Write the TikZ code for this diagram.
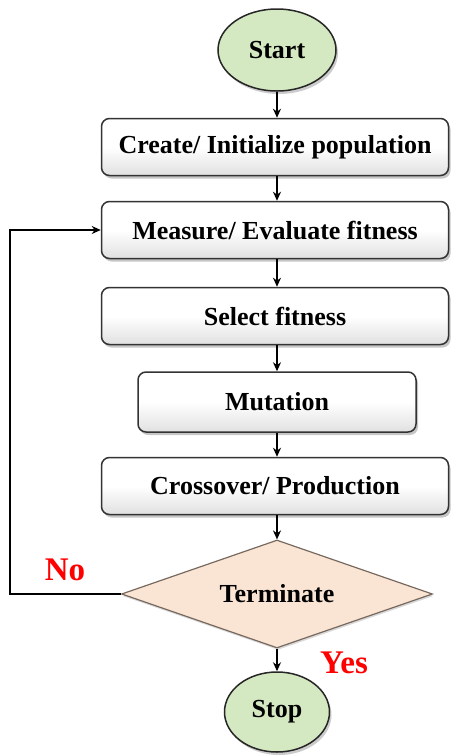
\documentclass[tikz,border=0pt]{standalone}
\usepackage{fontspec}
\setmainfont{Liberation Serif}
\usepackage{xcolor}
\usepackage{tikz}
\usetikzlibrary{shapes.geometric, arrows.meta, shadows, calc}
\definecolor{termgreen}{RGB}{212,232,194}
\definecolor{decpeach}{RGB}{250,229,212}
\definecolor{decedge}{RGB}{120,105,95}
\tikzset{
  block/.style={rectangle, draw=black!80, line width=1.5pt, rounded corners=8pt,
                top color=white, bottom color=black!12, middle color=white,
                minimum width=347pt, minimum height=57pt, align=center,
                font=\fontsize{26}{30}\selectfont\bfseries,
                drop shadow={shadow xshift=2pt, shadow yshift=-3pt, opacity=0.45}},
  smallblock/.style={block, minimum width=278pt, minimum height=60pt},
  terminal/.style={ellipse, draw=black!85, line width=1.5pt, fill=termgreen,
                   inner sep=0pt, align=center,
                   font=\fontsize{26}{30}\selectfont\bfseries,
                   drop shadow={shadow xshift=2pt, shadow yshift=-3pt, opacity=0.4}},
  decision/.style={diamond, draw=decedge, line width=1.2pt, fill=decpeach, aspect=3,
                   inner sep=0pt, minimum width=311pt, minimum height=108pt,
                   align=center, font=\fontsize{26}{30}\selectfont\bfseries,
                   drop shadow={shadow xshift=1pt, shadow yshift=-2pt, opacity=0.3}},
  arrow/.style={-{Stealth[length=9pt, width=8pt]}, line width=2.2pt}
}

\begin{document}
\begin{tikzpicture}[x=1pt, y=-1pt,
    answer/.style={text=red, font=\fontsize{33}{36}\selectfont\bfseries}
  ]
  \useasboundingbox (0,0) rectangle (451,756);

  % Start / Stop
  \node[terminal, minimum width=118pt, minimum height=82pt] (start) at (277,50) {Start};
  \node[terminal, minimum width=105pt, minimum height=80pt] (stop)  at (277,712) {Stop};

  % Process steps
  \node[block]      (init)   at (275,147) {Create/ Initialize population};
  \node[block]      (eval)   at (275,230) {Measure/ Evaluate fitness};
  \node[block]      (select) at (275,316) {Select fitness};
  \node[smallblock] (mutate) at (277,402) {Mutation};
  \node[block]      (cross)  at (275,486) {Crossover/ Production};

  % Decision
  \node[decision] (term) at (277,594) {Terminate};
  \node[answer] (no)  at (65,570)  {No};
  \node[answer] (yes) at (344,663) {Yes};

  % Main flow
  \draw[arrow] (start) -- (start |- init.north);
  \draw[arrow] (init.south -| start) -- (start |- eval.north);
  \draw[arrow] (eval.south -| start) -- (start |- select.north);
  \draw[arrow] (select.south -| start) -- (mutate);
  \draw[arrow] (mutate) -- (start |- cross.north);
  \draw[arrow] (cross.south -| start) -- (term);
  \draw[arrow] (term) -- (stop);

  % Loop back (No)
  \coordinate (back) at (10,594);
  \draw[arrow] (term.west) -- (back) |- (eval.west);
\end{tikzpicture}
\end{document}
